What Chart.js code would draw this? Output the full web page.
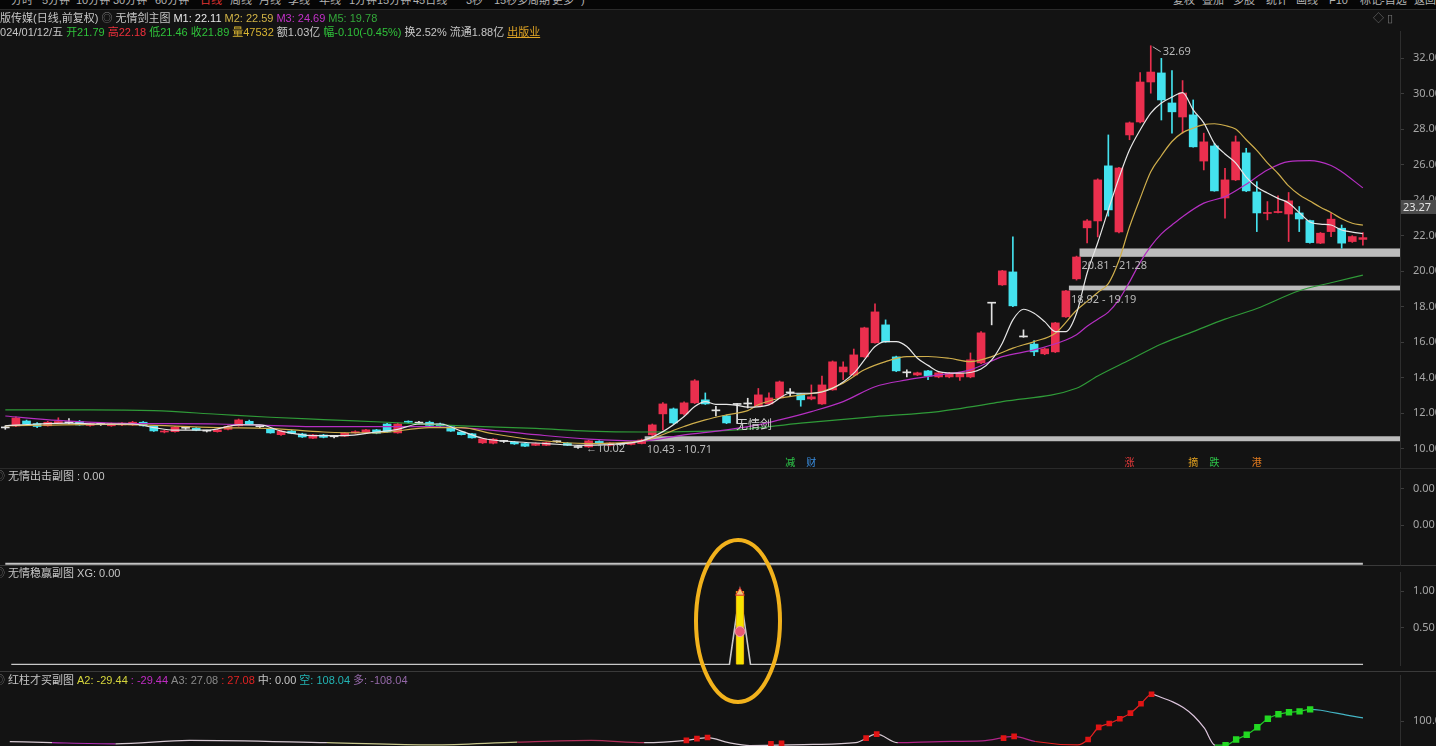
<!DOCTYPE html>
<html>
<head>
<meta charset="utf-8">
<script src="https://cdn.jsdelivr.net/npm/chart.js@4.4.1/dist/chart.umd.min.js"></script>
<style>
body { margin:0; width:1436px; height:746px; overflow:hidden; background:#131313; position:relative;
       font-family:"Liberation Sans","Noto Sans CJK SC",sans-serif; }
canvas { position:absolute; left:0; }
.t { position:absolute; font-size:11px; line-height:14px; white-space:nowrap; color:#c6c6c6; z-index:5; }
.t span { margin-right:3px; }
#topbar { position:absolute; left:0; top:0; width:1436px; height:9px; background:#060606; overflow:hidden; border-bottom:1px solid #2a2a2a; }
#topbar span { position:absolute; top:-7px; font-size:11px; line-height:14px; color:#b4b4b4; white-space:nowrap; }
.sep { position:absolute; left:0; width:1436px; height:1px; background:#2a2a2a; }
</style>
</head>
<body>
<div id="topbar">
  <span style="left:11px">分时</span><span style="left:42px">5分钟</span><span style="left:76px">10分钟</span>
  <span style="left:113px">30分钟</span><span style="left:155px">60分钟</span><span style="left:200px;color:#e03434">日线</span>
  <span style="left:230px">周线</span><span style="left:259px">月线</span><span style="left:288px">季线</span>
  <span style="left:319px">年线</span><span style="left:349px">1分钟</span><span style="left:377px">15分钟</span>
  <span style="left:413px">45日线</span><span style="left:466px">3秒</span><span style="left:494px">15秒</span>
  <span style="left:517px">多周期</span><span style="left:552px">更多</span><span style="left:581px">)</span>
  <span style="left:1173px">复权</span><span style="left:1202px">叠加</span><span style="left:1233px">多股</span>
  <span style="left:1266px">统计</span><span style="left:1296px">画线</span><span style="left:1329px">F10</span>
  <span style="left:1360px">标记</span><span style="left:1381px">-自选</span><span style="left:1414px">返回</span>
</div>

<div class="t" style="left:-11px;top:11px">
  <span>出版传媒(日线,前复权)</span><span style="color:#8a8a8a">◎</span><span>无情剑主图</span><span style="color:#e8e8e8">M1: 22.11</span><span style="color:#d2b446">M2: 22.59</span><span style="color:#c232c8">M3: 24.69</span><span style="color:#33a83a">M5: 19.78</span>
</div>
<div class="t" style="left:-6px;top:25px">
  <span>2024/01/12/五</span><span style="color:#2fc23a">开21.79</span><span style="color:#f0303c">高22.18</span><span style="color:#2fc23a">低21.46</span><span style="color:#2fc23a">收21.89</span><span style="color:#d8b432">量47532</span><span>额1.03亿</span><span style="color:#2fc23a">幅-0.10(-0.45%)</span><span>换2.52%</span><span>流通1.88亿</span><span style="color:#e0a424;text-decoration:underline">出版业</span>
</div>
<div class="t" style="left:1373px;top:11px;color:#777">◇ ▯</div>

<div class="t" style="left:-6px;top:469px"><span style="color:#777">◎</span><span>无情出击副图 : 0.00</span></div>
<div class="t" style="left:-6px;top:566px"><span style="color:#777">◎</span><span>无情稳赢副图 XG: 0.00</span></div>
<div class="t" style="left:-6px;top:673px"><span style="color:#777">◎</span><span>红柱才买副图</span><span style="color:#d6d63c">A2: -29.44</span><span style="color:#c02cc4">: -29.44</span><span style="color:#8a8a8a">A3: 27.08</span><span style="color:#e02222">: 27.08</span><span>中: 0.00</span><span style="color:#22b4b4">空: 108.04</span><span style="color:#9468a8">多: -108.04</span></div>

<div class="t" style="left:1401px;top:200px;width:35px;height:14px;background:#4c4c4c;color:#e6e6e6;font-size:11px;font-family:'Noto Sans';padding-left:2px;box-sizing:border-box">23.27</div>

<div class="sep" style="top:468px"></div>
<div class="sep" style="top:565px;background:#3a3a3a"></div>
<div class="sep" style="top:671px;background:#3a3a3a"></div>

<canvas id="main" width="1436" height="468" style="top:0"></canvas>
<canvas id="p1" width="1436" height="98" style="top:468px"></canvas>
<canvas id="p2" width="1436" height="105" style="top:566px"></canvas>
<canvas id="p3" width="1436" height="120" style="top:671px"></canvas>

<svg style="position:absolute;left:0;top:0;z-index:6" width="1436" height="746">
  <ellipse cx="738" cy="621" rx="42" ry="81" fill="none" stroke="#f2b21c" stroke-width="4"/>
</svg>

<script>
// candles, daily, oldest first (129 days, 3 empty slots on the right)
const openP  = [11.18,11.29,11.57,11.42,11.30,11.45,11.47,11.54,11.32,11.38,11.30,11.35,11.35,11.50,11.29,10.95,10.97,11.16,11.16,11.00,
                10.97,11.10,11.30,11.55,11.25,11.12,10.80,11.00,10.84,10.60,10.78,10.68,10.72,10.90,10.92,11.07,11.40,10.90,11.54,11.45,
                11.50,11.40,11.25,10.95,10.85,10.34,10.32,10.42,10.38,10.30,10.20,10.20,10.40,10.32,10.08,10.11,10.42,10.20,10.25,10.25,
                10.30,10.79,11.97,12.25,11.97,12.59,12.76,12.14,11.86,12.50,12.53,12.42,12.53,12.87,13.15,13.10,12.81,12.53,13.32,14.33,
                14.16,15.18,15.97,16.98,15.18,14.28,14.16,14.39,14.05,14.05,14.05,14.05,14.84,18.20,19.23,19.96,16.30,15.90,15.35,15.46,
                17.43,19.57,22.44,22.83,25.93,22.21,27.67,28.40,30.65,31.16,29.47,28.68,28.80,26.20,27.05,24.12,25.14,26.66,24.46,23.25,
                23.30,23.22,23.28,22.85,21.58,22.23,22.42,21.67,21.79];
const highP  = [11.30,11.80,11.62,11.48,11.55,11.75,11.70,11.60,11.45,11.44,11.46,11.48,11.55,11.54,11.32,11.05,11.25,11.22,11.20,11.05,
                11.10,11.30,11.68,11.62,11.32,11.15,11.04,11.05,10.88,10.82,10.82,10.74,10.92,11.02,11.10,11.10,11.44,11.45,11.58,11.55,
                11.56,11.45,11.28,10.98,10.88,10.60,10.58,10.48,10.42,10.33,10.34,10.38,10.45,10.36,10.12,10.48,10.46,10.36,10.30,10.40,
                10.55,11.40,12.60,12.30,12.65,13.90,13.15,12.40,11.90,12.55,12.85,13.40,13.15,13.82,13.40,13.12,13.60,14.10,14.95,14.90,
                15.62,16.85,18.16,17.26,15.22,14.45,14.32,14.42,14.32,14.30,14.30,15.40,16.60,18.22,20.05,21.93,16.70,16.10,15.68,17.12,
                18.92,20.85,22.90,25.20,27.67,25.85,28.40,31.18,32.69,31.98,31.29,30.73,29.64,27.77,27.20,25.79,27.61,26.92,25.04,23.92,
                24.24,24.43,23.64,22.88,22.18,23.26,22.60,22.00,22.18];
const lowP   = [11.10,11.25,11.35,11.20,11.28,11.42,11.40,11.33,11.28,11.32,11.27,11.30,11.32,11.28,10.98,10.90,10.94,11.10,11.02,10.95,
                10.94,11.06,11.28,11.36,11.20,10.88,10.76,10.85,10.64,10.57,10.62,10.62,10.70,10.88,10.90,10.85,10.94,10.88,11.46,11.40,
                11.30,11.26,10.98,10.78,10.60,10.30,10.28,10.36,10.25,10.12,10.18,10.18,10.36,10.18,10.02,10.08,10.27,10.16,10.20,10.22,
                10.28,10.75,11.07,11.40,11.90,12.55,12.50,11.85,11.42,11.45,12.30,12.38,12.50,12.85,13.00,12.40,12.76,12.50,13.30,13.90,
                14.10,15.15,15.95,16.00,14.35,14.05,14.12,13.90,14.00,14.00,13.85,14.00,14.80,16.98,19.20,18.00,16.28,15.24,15.30,15.42,
                17.40,19.50,21.59,21.93,23.10,22.15,27.40,28.35,30.02,28.51,27.77,27.77,26.98,25.70,24.50,22.98,25.10,24.48,22.23,22.89,
                23.28,21.67,22.23,21.58,21.55,21.95,21.29,21.62,21.46];
const closeP = [11.18,11.74,11.40,11.26,11.50,11.54,11.47,11.35,11.42,11.38,11.42,11.45,11.50,11.30,11.01,11.00,11.22,11.16,11.05,11.00,
                11.07,11.26,11.63,11.40,11.25,10.90,11.00,10.88,10.67,10.78,10.65,10.68,10.88,10.97,11.07,10.88,10.96,11.40,11.50,11.45,
                11.32,11.30,11.00,10.80,10.62,10.56,10.55,10.42,10.28,10.15,10.30,10.35,10.40,10.20,10.08,10.45,10.30,10.33,10.25,10.35,
                10.50,11.35,12.53,11.46,12.59,13.83,12.53,12.14,11.46,12.50,12.53,13.04,12.87,13.77,13.15,12.76,12.93,13.60,14.90,14.61,
                15.29,16.81,17.71,16.02,14.39,14.28,14.28,14.10,14.28,14.25,14.25,15.01,16.53,18.20,20.02,18.05,16.30,15.46,15.63,17.09,
                18.89,20.80,22.83,25.14,23.45,25.81,28.35,30.65,31.21,29.64,28.97,30.03,27.00,27.28,24.52,25.14,27.28,24.52,23.28,23.30,
                23.36,23.96,22.94,21.61,22.14,22.93,21.58,21.95,21.89];

// moving averages: [day index, value]
const m1 = [[0,11.30],[3,11.40],[6,11.45],[9,11.40],[12,11.40],[14,11.20],[16,11.05],[19,11.05],[22,11.35],[24,11.35],
            [26,11.00],[29,10.75],[32,10.75],[35,10.95],[37,11.10],[39,11.40],[41,11.40],[43,11.00],[45,10.60],[48,10.40],
            [51,10.30],[54,10.20],[57,10.25],[60,10.45],[62,10.97],[64,11.82],[65,12.38],[66,12.66],[67,12.51],[68,12.51],
            [69,12.45],[70,12.35],[72,12.48],[74,13.13],[76,13.13],[78,13.41],[80,14.26],[81,15.01],[82,15.76],[83,16.04],
            [84,16.04],[85,15.76],[86,15.10],[87,14.70],[88,14.35],[90,14.26],[92,14.50],[93,15.01],[94,15.95],[95,17.26],
            [96,17.86],[97,17.63],[98,17.16],[99,16.60],[100,16.60],[101,17.63],[102,19.90],[103,21.60],[104,23.45],[105,25.25],
            [106,26.83],[107,27.95],[108,28.90],[109,29.47],[110,29.80],[111,30.05],[112,29.08],[113,28.35],[114,27.20],[115,26.60],
            [116,26.10],[117,25.30],[118,24.74],[119,24.40],[120,24.10],[121,23.84],[122,23.30],[123,22.77],[124,22.65],[125,22.60],
            [126,22.32],[127,22.20],[128,22.11]];
const m2 = [[0,11.30],[10,11.38],[20,11.20],[25,11.15],[30,10.95],[35,10.90],[40,11.20],[43,11.20],[46,10.85],[50,10.50],
            [55,10.30],[60,10.45],[64,11.26],[66,11.63],[68,11.91],[70,12.15],[71,12.48],[73,12.85],[75,13.04],[77,13.22],
            [79,13.70],[81,14.45],[83,14.91],[85,15.19],[87,15.20],[89,15.10],[91,14.91],[93,15.19],[95,15.67],[97,16.04],
            [99,16.51],[101,17.80],[102,18.30],[103,18.80],[104,19.30],[105,20.60],[106,22.50],[107,24.10],[108,25.60],[109,26.50],
            [110,27.30],[111,27.80],[112,28.05],[113,28.25],[114,28.30],[115,28.20],[116,28.00],[117,27.40],[118,26.80],[119,26.10],
            [120,25.50],[121,24.80],[122,24.30],[123,23.95],[124,23.60],[125,23.30],[126,22.95],[127,22.70],[128,22.59]];
const m3 = [[0,11.85],[5,11.60],[10,11.45],[20,11.40],[30,11.25],[40,11.25],[45,11.10],[50,10.80],[55,10.55],[60,10.45],
            [64,10.79],[68,11.07],[71,11.35],[73,11.63],[76,12.10],[79,12.66],[82,13.50],[85,13.88],[88,14.16],[91,14.45],
            [94,15.19],[97,15.57],[100,16.13],[101,16.42],[102,16.90],[103,17.30],[104,17.70],[105,18.40],[106,19.40],[107,20.50],
            [108,21.40],[109,22.10],[110,22.60],[111,23.07],[113,23.83],[115,24.20],[117,24.90],[119,25.70],[121,26.17],[123,26.22],
            [125,25.95],[126,25.60],[128,24.69]];
const m5 = [[0,12.20],[8,12.20],[14,12.15],[20,11.95],[25,11.78],[30,11.65],[36,11.50],[43,11.30],[50,11.15],[55,11.00],
            [60,10.95],[69,11.07],[75,11.45],[82,11.82],[88,12.10],[94,12.66],[101,13.41],[103,14.10],[106,15.00],[109,15.90],
            [112,16.60],[115,17.30],[118,17.90],[122,18.90],[125,19.35],[128,19.78]];

// support bands drawn by the indicator
const bandLow   = [10.43, 18.92, 20.81];
const bandHigh  = [10.71, 19.19, 21.28];
const bandStart = [60, 100, 101];

// event tags under the candles
const tagIdx   = [74, 76, 106, 112, 114, 118];
const tagText  = ['减', '财', '涨', '摘', '跌', '港'];
const tagColor = ['#2ec84a', '#3a8ee0', '#e83a3a', '#e0a020', '#2ec84a', '#e07a20'];

const priceTicks = [10, 12, 14, 16, 18, 20, 22, 24, 26, 28, 30, 32];

// sub panels
const p1Ticks = [0.0032, 0.00165];
const xgSpike = [[69, 1.0]];
const xgBar   = [[69, 1.0]];
const xgBall  = [[69, 0.45]];
const xgTop   = [[69, 0.98]];
const p2Ticks = [1.0, 0.5];
const p3Line  = [[0,64],[4,62],[10,60],[17,66],[30,62],[40,58],[48,63],[55,66],[60,62],[64,66],[66,71],[68,62],[70,57],
                 [76,59],[80,62],[82,77],[84,62],[88,64],[92,65],[95,73],[97,64],[101,58],[102,67.6],[103,89],[104,95.7],
                 [105,104],[106,113.9],[107,130.4],[108,147],[109,141],[110,133.7],[111,123.8],[112,108.9],[113,87.4],[114,57.7],
                 [115,57.7],[116,67.6],[117,75.9],[118,89],[119,104],[120,112],[121,115.5],[122,117],[123,120.5],[124,119],
                 [125,115.5],[126,112],[127,108.5],[128,105.6]];
const p3Red   = [[64,66],[65,69],[66,71],[72,60],[73,61],[81,70],[82,77],[94,70],[95,73],[102,67.6],[103,89],[104,95.7],
                 [105,104],[106,113.9],[107,130.4],[108,147]];
const p3Green = [[115,57.7],[116,67.6],[117,75.9],[118,89],[119,104],[120,112],[121,115.5],[122,117],[123,120.5]];
const p3Ticks = [100];

const N_SLOTS = 132;
const labels = Array.from({length: N_SLOTS}, (_, i) => i);

const RED = '#ea2f4e', CYAN = '#44e2ee', DOJI = '#e2e2e2';
const AXIS_FONT = {family: 'Noto Sans', size: 11};

function sparse(pairs) {
    const out = new Array(openP.length).fill(null);
    pairs.forEach(([k, v]) => { out[k] = v; });
    return out;
}

const candleColor = (i) => closeP[i] > openP[i] ? RED : (closeP[i] < openP[i] ? CYAN : DOJI);

const maLine = (pairs, color) => ({
    type: 'line', data: sparse(pairs), borderColor: color, borderWidth: 1.2,
    pointRadius: 0, spanGaps: true, cubicInterpolationMode: 'monotone'
});

// right axis of fixed width; label padding must not shrink the plot area
const rightAxis = (min, max, ticks, fmt) => ({
    position: 'right', min: min, max: max,
    afterFit: (s) => { s.width = 36; s.paddingTop = 0; s.paddingBottom = 0; },
    afterBuildTicks: (s) => { s.ticks = ticks.map(v => ({value: v})); },
    ticks: {callback: fmt, color: '#a6a6a6', font: AXIS_FONT, padding: 9},
    grid: {drawOnChartArea: false, tickLength: 4, color: '#3c3c3c'},
    border: {color: '#2e2e2e'}
});

const baseOptions = (padding, yAxis) => ({
    responsive: false, animation: false,
    layout: {padding: padding},
    plugins: {legend: {display: false}, tooltip: {enabled: false}},
    scales: {x: {display: false, offset: true}, y: yAxis}
});

// bands, band labels and text marks on the main chart
const mainMarks = {
    id: 'mainMarks',
    beforeDatasetsDraw(chart) {
        const {ctx, chartArea, scales: {x, y}} = chart;
        ctx.save();
        ctx.fillStyle = '#bcbcbc';
        bandLow.forEach((lo, j) => {
            const x0 = x.getPixelForValue(bandStart[j]) + 3;
            const y0 = y.getPixelForValue(bandHigh[j]);
            ctx.fillRect(x0, y0, chartArea.right - x0, y.getPixelForValue(lo) - y0);
        });
        ctx.restore();
    },
    afterDatasetsDraw(chart) {
        const {ctx, chartArea, scales: {x, y}} = chart;
        ctx.save();
        ctx.font = '11px "Noto Sans"';
        ctx.fillStyle = '#b8b8b8';
        ctx.textBaseline = 'middle';
        bandLow.forEach((lo, j) => {
            ctx.fillText(lo.toFixed(2) + ' - ' + bandHigh[j].toFixed(2), x.getPixelForValue(bandStart[j]) + 5, y.getPixelForValue(lo) + 9);
        });
        // highest and lowest price
        const hi = Math.max(...highP), lo = Math.min(...lowP);
        const hx = x.getPixelForValue(highP.indexOf(hi)), hy = y.getPixelForValue(hi);
        ctx.strokeStyle = '#b8b8b8';
        ctx.beginPath(); ctx.moveTo(hx + 2, hy + 1); ctx.lineTo(hx + 10, hy + 6); ctx.stroke();
        ctx.fillText(hi.toFixed(2), hx + 12, hy + 6);
        const lx = x.getPixelForValue(lowP.indexOf(lo)), ly = y.getPixelForValue(lo);
        ctx.fillText('\u2190' + lo.toFixed(2), lx + 8, ly);
        ctx.font = '12px "Noto Sans CJK SC"';
        ctx.fillStyle = '#d4d4d4';
        ctx.fillText('无情剑', x.getPixelForValue(69) - 1, y.getPixelForValue(11.35));
        ctx.font = '10px "Noto Sans CJK SC"';
        ctx.textAlign = 'center';
        tagIdx.forEach((k, j) => {
            ctx.fillStyle = tagColor[j];
            ctx.fillText(tagText[j], x.getPixelForValue(k), chartArea.bottom - 5);
        });
        ctx.restore();
    }
};

new Chart(document.getElementById('main'), {
    type: 'bar',
    data: {
        labels: labels,
        datasets: [
            maLine(m1, '#e6e6e6'),
            maLine(m2, '#cfae4c'),
            maLine(m3, '#b52fc2'),
            maLine(m5, '#2f9a38'),
            {
                data: openP.map((o, i) => [o, closeP[i]]),
                backgroundColor: openP.map((o, i) => candleColor(i)),
                barThickness: 8, minBarLength: 1, grouped: false
            },
            {
                data: lowP.map((l, i) => [l, highP[i]]),
                backgroundColor: openP.map((o, i) => candleColor(i)),
                barThickness: 1, grouped: false
            }
        ]
    },
    options: baseOptions({top: 31, bottom: 1, left: 0, right: 0},
        rightAxis(8.98, 33.52, priceTicks, v => v.toFixed(2))),
    plugins: [mainMarks]
});

new Chart(document.getElementById('p1'), {
    type: 'line',
    data: {
        labels: labels,
        datasets: [{data: openP.map(() => 0), borderColor: '#c4c4c4', borderWidth: 2, pointRadius: 0}]
    },
    options: baseOptions({top: 2, bottom: 0, left: 0, right: 0},
        rightAxis(-0.0001, 0.004, p1Ticks, v => v.toFixed(2)))
});

const xgLine = sparse(xgSpike).map(v => v === null ? 0 : v);
new Chart(document.getElementById('p2'), {
    type: 'bar',
    data: {
        labels: labels,
        datasets: [
            {type: 'line', data: sparse(xgTop), pointStyle: 'triangle', pointRadius: 5,
             pointBackgroundColor: '#f0c878', pointBorderColor: '#d82a2a', showLine: false},
            {type: 'line', data: sparse(xgBall), pointRadius: 5, pointBackgroundColor: '#e85a74',
             pointBorderColor: '#f4a0b0', showLine: false},
            {data: sparse(xgBar), backgroundColor: '#f6e400', borderColor: '#e8a010', borderWidth: 1,
             barThickness: 8, grouped: false},
            {type: 'line', data: xgLine, borderColor: '#c8c8c8', borderWidth: 1.6, pointRadius: 0}
        ]
    },
    options: baseOptions({top: 0, bottom: 1, left: 0, right: 0},
        rightAxis(-0.0061, 1.2622, p2Ticks, v => v.toFixed(2)))
});

// colour of the p3 line by segment start day
const p3SegStart = [0, 4, 15, 35, 50, 60, 84, 100, 108, 114, 123];
const p3SegColor = ['#d6c8d2', '#b331b8', '#d6c8d2', '#c8c88e', '#b0305a', '#d6c8d2', '#b02488', '#e42222', '#dcc4dc', '#22c82a', '#44b4c4'];
const segColor = (ctx) => {
    let c = p3SegColor[0];
    p3SegStart.forEach((s, j) => { if (ctx.p0DataIndex >= s) c = p3SegColor[j]; });
    return c;
};

new Chart(document.getElementById('p3'), {
    type: 'line',
    data: {
        labels: labels,
        datasets: [
            {data: sparse(p3Red), showLine: false, pointStyle: 'rect', pointRadius: 4,
             pointBackgroundColor: '#e01414', pointBorderWidth: 0},
            {data: sparse(p3Green), showLine: false, pointStyle: 'rect', pointRadius: 4.5,
             pointBackgroundColor: '#22d822', pointBorderWidth: 0},
            {data: sparse(p3Line), borderWidth: 1.2, pointRadius: 0, spanGaps: true,
             cubicInterpolationMode: 'monotone', segment: {borderColor: segColor}}
        ]
    },
    options: baseOptions({top: 1, bottom: 1, left: 0, right: 0},
        rightAxis(-15, 180, p3Ticks, v => v.toFixed(2)))
});
</script>
</body>
</html>
